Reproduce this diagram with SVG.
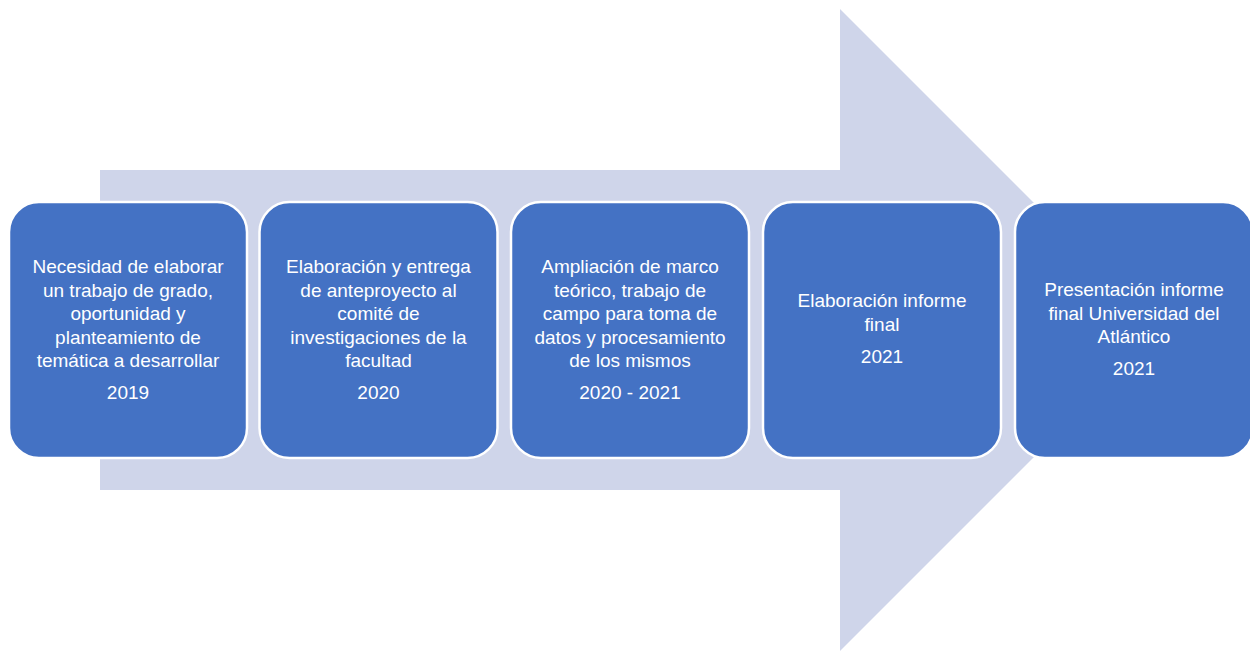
<svg xmlns="http://www.w3.org/2000/svg" width="1250" height="651" viewBox="0 0 1250 651">
<style>
.box{fill:#4472C4;stroke:#FFFFFF;stroke-width:2.5}
.t{font-family:"Liberation Sans",Arial,sans-serif;font-size:19px;fill:#FFFFFF;text-anchor:middle}
</style>
<rect width="1250" height="651" fill="#FFFFFF"/>
<g id="arrow">
<polygon points="100,170 840,170 840,9 1161,330 840,651 840,490 100,490" fill="#CFD5EA"/>
</g>
<g id="connectors"></g>
<g id="n1">
<rect class="box" x="9" y="202" width="238" height="256" rx="30"/>
<text class="t" x="128" y="273">Necesidad de elaborar</text>
<text class="t" x="128" y="296.5">un trabajo de grado,</text>
<text class="t" x="128" y="320">oportunidad y</text>
<text class="t" x="128" y="343.5">planteamiento de</text>
<text class="t" x="128" y="367">temática a desarrollar</text>
<text class="t" x="128" y="399">2019</text>
</g>
<g id="n2">
<rect class="box" x="259.5" y="202" width="238" height="256" rx="30"/>
<text class="t" x="378.5" y="273">Elaboración y entrega</text>
<text class="t" x="378.5" y="296.5">de anteproyecto al</text>
<text class="t" x="378.5" y="320">comité de</text>
<text class="t" x="378.5" y="343.5">investigaciones de la</text>
<text class="t" x="378.5" y="367">facultad</text>
<text class="t" x="378.5" y="399">2020</text>
</g>
<g id="n3">
<rect class="box" x="511" y="202" width="238" height="256" rx="30"/>
<text class="t" x="630" y="273">Ampliación de marco</text>
<text class="t" x="630" y="296.5">teórico, trabajo de</text>
<text class="t" x="630" y="320">campo para toma de</text>
<text class="t" x="630" y="343.5">datos y procesamiento</text>
<text class="t" x="630" y="367">de los mismos</text>
<text class="t" x="630" y="399">2020 - 2021</text>
</g>
<g id="n4">
<rect class="box" x="763" y="202" width="238" height="256" rx="30"/>
<text class="t" x="882" y="307">Elaboración informe</text>
<text class="t" x="882" y="330.5">final</text>
<text class="t" x="882" y="362.5">2021</text>
</g>
<g id="n5">
<rect class="box" x="1015" y="202" width="238" height="256" rx="30"/>
<text class="t" x="1134" y="296">Presentación informe</text>
<text class="t" x="1134" y="319.5">final Universidad del</text>
<text class="t" x="1134" y="343">Atlántico</text>
<text class="t" x="1134" y="375">2021</text>
</g>
</svg>
